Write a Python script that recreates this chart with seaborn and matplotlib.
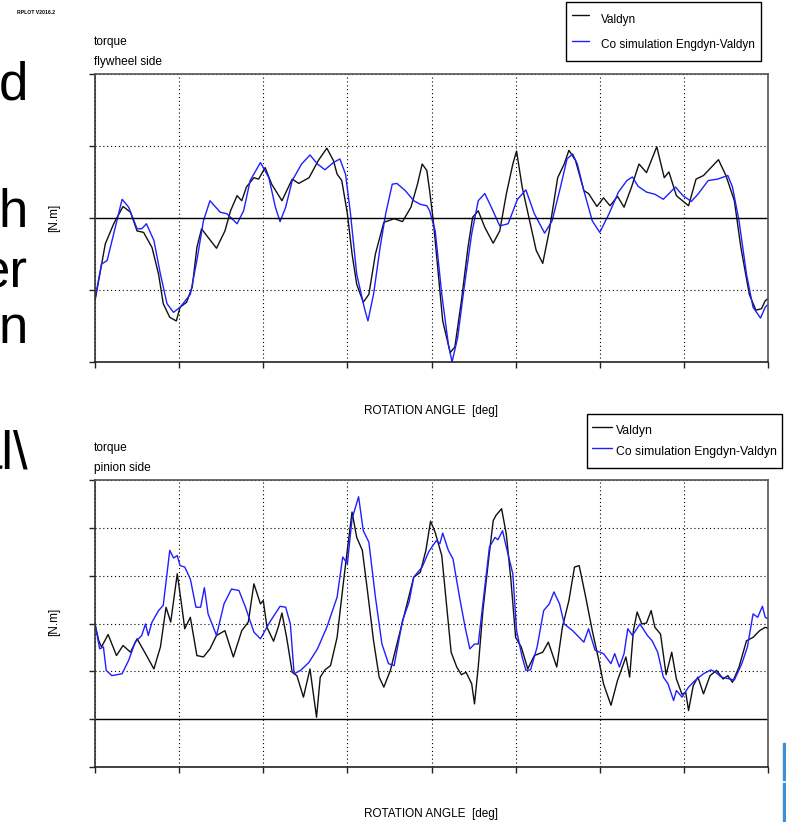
import seaborn as sns
import pandas as pd
import matplotlib.pyplot as plt
from matplotlib.patches import Rectangle

# torque curves (y in grid units, x in crank degrees)

# flywheel side - Valdyn
fly_valdyn_x = [0, 11, 20, 30, 38, 45, 52, 61, 68, 73, 80, 87, 91, 98, 104, 109, 114, 121, 130, 139,
                145, 152, 157, 162, 170, 175, 182, 189, 200, 211, 218, 229, 239, 248, 255, 259, 264, 270,
                275, 280, 287, 293, 300, 309, 320, 329, 338, 345, 350, 355, 358, 362, 366, 372, 380, 385,
                392, 399, 404, 410, 417, 426, 433, 440, 447, 451, 457, 465, 472, 479, 486, 495, 502, 507,
                514, 523, 528, 537, 544, 551, 559, 566, 574, 582, 590, 601, 609, 614, 622, 635, 643, 651,
                659, 667, 675, 684, 691, 700, 707, 713, 717, 720]
fly_valdyn_y = [-1.15, -0.36, -0.08, 0.16, 0.08, -0.18, -0.2, -0.41, -0.78, -1.19, -1.38, -1.43, -1.24, -1.17,
                -0.96, -0.41, -0.15, -0.27, -0.42, -0.18, 0.10, 0.31, 0.24, 0.43, 0.56, 0.54, 0.70, 0.47, 0.24,
                0.54, 0.48, 0.56, 0.80, 0.97, 0.80, 0.61, 0.52, 0.06, -0.5, -0.92, -1.17, -1.06, -0.5, -0.06,
                -0.01, -0.05, 0.15, 0.47, 0.75, 0.66, 0.38, -0.05, -0.6, -1.43, -1.87, -1.79, -1.15, -0.41,
                0.01, 0.10, -0.13, -0.35, -0.18, 0.33, 0.75, 0.93, 0.43, -0.04, -0.45, -0.63, -0.18, 0.56,
                0.75, 0.94, 0.80, 0.38, 0.34, 0.16, 0.28, 0.17, 0.30, 0.15, 0.43, 0.75, 0.63, 0.99, 0.56,
                0.64, 0.31, 0.17, 0.54, 0.59, 0.70, 0.81, 0.59, 0.24, -0.41, -1.06, -1.28, -1.26, -1.15, -1.12]

# flywheel side - co simulation
fly_cosim_x = [0, 7, 13, 20, 29, 36, 45, 50, 55, 63, 70, 77, 84, 91, 102, 109, 116, 123, 134, 141, 152,
               159, 166, 177, 186, 193, 198, 204, 211, 221, 230, 238, 246, 255, 262, 268, 273, 280, 288,
               292, 298, 305, 311, 318, 323, 332, 341, 348, 355, 358, 364, 371, 378, 382, 388, 395, 403,
               410, 417, 424, 433, 442, 452, 461, 470, 481, 489, 498, 505, 511, 516, 523, 532, 540, 550,
               560, 569, 575, 581, 590, 599, 608, 621, 629, 638, 645, 656, 666, 677, 682, 689, 697, 704,
               712, 717, 720]
fly_cosim_y = [-1.12, -0.64, -0.59, -0.22, 0.26, 0.15, -0.15, -0.15, -0.08, -0.31, -0.78, -1.19, -1.31,
               -1.24, -1.06, -0.59, -0.04, 0.24, 0.08, 0.06, -0.08, 0.10, 0.52, 0.77, 0.56, 0.15, -0.05,
               0.15, 0.52, 0.75, 0.875, 0.75, 0.67, 0.77, 0.82, 0.61, 0.10, -0.78, -1.24, -1.43, -1.06,
               -0.41, 0.06, 0.47, 0.48, 0.38, 0.24, 0.19, 0.17, 0.10, -0.18, -1.06, -1.75, -2.0, -1.66,
               -0.96, -0.22, 0.24, 0.34, 0.15, -0.11, -0.08, 0.26, 0.39, 0.06, -0.21, -0.04, 0.43, 0.82,
               0.89, 0.75, 0.38, -0.04, -0.20, 0.06, 0.36, 0.52, 0.57, 0.44, 0.36, 0.33, 0.26, 0.43, 0.31,
               0.23, 0.33, 0.52, 0.54, 0.59, 0.43, -0.04, -0.78, -1.24, -1.39, -1.24, -1.2]

# pinion side - Valdyn
pin_valdyn_x = [0, 4, 7, 14, 23, 30, 38, 45, 54, 63, 70, 76, 81, 88, 93, 96, 102, 109, 116, 123, 130, 139,
                148, 157, 164, 170, 177, 180, 184, 191, 196, 200, 205, 211, 216, 223, 230, 237, 241, 246,
                252, 259, 266, 271, 275, 280, 286, 291, 298, 304, 309, 316, 323, 332, 341, 348, 354, 359,
                364, 371, 376, 381, 387, 392, 397, 403, 406, 410, 415, 421, 426, 429, 435, 440, 445, 450,
                456, 463, 470, 479, 485, 494, 500, 507, 513, 518, 525, 532, 539, 544, 552, 559, 568, 572,
                576, 580, 585, 590, 595, 599, 605, 611, 617, 622, 628, 632, 635, 640, 645, 651, 658, 665,
                672, 677, 682, 689, 697, 704, 711, 717, 720]
pin_valdyn_y = [1.99, 1.64, 1.51, 1.77, 1.33, 1.54, 1.40, 1.68, 1.37, 1.05, 1.51, 2.34, 2.03, 3.04, 2.34,
                1.89, 2.13, 1.33, 1.30, 1.47, 1.75, 1.85, 1.30, 1.85, 2.03, 2.83, 2.41, 2.48, 1.92, 1.63,
                1.92, 2.22, 1.71, 0.98, 0.91, 0.46, 1.05, 0.04, 0.88, 1.03, 1.12, 1.71, 2.90, 3.70, 4.33,
                3.80, 3.53, 2.76, 1.64, 0.88, 0.67, 1.02, 1.57, 2.27, 2.97, 3.07, 3.53, 4.14, 3.90, 3.42,
                2.41, 1.40, 1.09, 0.93, 0.98, 0.74, 0.32, 1.09, 2.27, 3.32, 4.15, 4.26, 4.40, 3.87, 2.90,
                1.71, 1.51, 1.05, 1.33, 1.40, 1.61, 1.09, 1.92, 2.48, 3.18, 3.21, 2.55, 1.85, 1.23, 0.74,
                0.29, 0.81, 1.30, 0.88, 1.85, 2.24, 1.99, 2.01, 2.27, 1.92, 1.78, 0.93, 1.40, 0.84, 0.52,
                0.56, 0.18, 0.70, 0.88, 0.53, 0.91, 1.02, 0.84, 0.91, 0.77, 1.09, 1.64, 1.71, 1.85, 1.92, 1.9]

# pinion side - co simulation
pin_cosim_x = [0, 5, 9, 12, 18, 29, 36, 43, 50, 54, 57, 61, 68, 73, 80, 84, 88, 91, 96, 102, 108, 113,
               117, 121, 130, 138, 146, 154, 161, 170, 177, 187, 198, 204, 209, 213, 220, 229, 238, 248,
               259, 265, 270, 275, 282, 287, 293, 300, 307, 314, 320, 329, 336, 341, 350, 357, 365, 369,
               372, 378, 383, 390, 396, 401, 406, 410, 417, 422, 428, 431, 436, 440, 447, 451, 457, 461,
               466, 473, 480, 486, 491, 497, 502, 511, 523, 528, 535, 544, 552, 556, 561, 566, 570, 575,
               583, 591, 596, 602, 608, 613, 619, 622, 628, 635, 642, 651, 659, 664, 670, 679, 684, 692,
               698, 704, 709, 714, 717, 720]
pin_cosim_y = [1.99, 1.47, 1.51, 1.02, 0.91, 0.95, 1.23, 1.61, 1.75, 1.99, 1.75, 2.03, 2.27, 2.38, 3.53,
               3.37, 3.42, 3.21, 3.18, 2.93, 2.34, 2.34, 2.75, 2.20, 1.75, 2.41, 2.72, 2.69, 2.34, 1.82,
               1.68, 2.03, 2.36, 2.34, 1.99, 0.95, 1.02, 1.19, 1.47, 1.92, 2.55, 3.39, 3.25, 4.19, 4.65,
               3.94, 3.70, 2.55, 1.57, 1.16, 1.12, 2.06, 2.45, 2.97, 3.18, 3.50, 3.73, 3.67, 3.89, 3.53,
               3.35, 2.55, 1.92, 1.47, 1.57, 1.57, 2.76, 3.60, 3.80, 3.75, 3.94, 3.60, 3.04, 1.85, 1.30,
               1.02, 1.03, 1.51, 2.27, 2.41, 2.66, 2.41, 1.99, 1.85, 1.61, 1.89, 1.44, 1.37, 1.16, 1.37,
               1.09, 1.37, 1.89, 1.75, 1.99, 1.75, 1.64, 1.40, 0.88, 0.74, 0.39, 0.60, 0.46, 0.67, 0.81,
               0.95, 1.03, 0.98, 0.88, 0.84, 0.82, 1.16, 1.51, 2.20, 2.13, 2.36, 2.13, 2.1]

series_names = ["Valdyn", "Co simulation Engdyn-Valdyn"]
series_colors = ["#111111", "#1f1fff"]

sns.set_style("white")
plt.rcParams['font.family'] = ['Liberation Sans', 'DejaVu Sans']
plt.rcParams['text.color'] = 'black'

fig = plt.figure(figsize=(7.86, 8.22), dpi=100)
W, H = 786, 822


def fx(px):
    return px / W


def fy(py):
    return 1 - py / H


def torque_panel(rect, vx, vy, cx, cy, ylim):
    ax = fig.add_axes(rect)
    sns.lineplot(x=vx, y=vy, ax=ax, color=series_colors[0], lw=1.0, sort=False,
                 estimator=None, label=series_names[0])
    sns.lineplot(x=cx, y=cy, ax=ax, color=series_colors[1], lw=1.0, sort=False,
                 estimator=None, label=series_names[1])
    ax.set_xlim(0, 720)
    ax.set_ylim(*ylim)
    ax.set_xticks(range(0, 721, 90))
    ax.set_yticks(range(ylim[0], ylim[1] + 1))
    ax.set_xticklabels([])
    ax.set_yticklabels([])
    ax.set_xlabel("")
    ax.set_ylabel("")
    ax.grid(True, color="black", ls=(0, (1, 2.5)), lw=0.8)
    ax.axhline(0, color="black", lw=1.0)
    for s in ax.spines.values():
        s.set_color("#555555")
        s.set_linewidth(1.2)
    ax.spines["left"].set_color("#333333")
    ax.spines["bottom"].set_color("#222222")
    ax.tick_params(direction="out", length=4, width=1, color="#222222",
                   bottom=True, left=True)
    ax.get_legend().remove()
    return ax


ax1 = torque_panel([fx(95), fy(362), fx(673), 288 / H],
                   fly_valdyn_x, fly_valdyn_y, fly_cosim_x, fly_cosim_y, (-2, 2))
ax2 = torque_panel([fx(95), fy(767), fx(673), 287 / H],
                   pin_valdyn_x, pin_valdyn_y, pin_cosim_x, pin_cosim_y, (-1, 5))

# legends, drawn like the RPLOT boxes
legend_opts = [
    (ax1, (761, 2), dict(fontsize=8.5, labelspacing=0.3, borderpad=0.5, handleheight=2.5,
                         handlelength=1.45, handletextpad=1.0)),
    (ax2, (782, 414), dict(fontsize=8.8, labelspacing=-0.07, borderpad=0.45, handleheight=2.4,
                           handlelength=1.6, handletextpad=0.3)),
]
for ax, (xr, yt), opts in legend_opts:
    h, l = ax.get_legend_handles_labels()
    leg = ax.legend(h, l, loc="upper right", bbox_to_anchor=(fx(xr), fy(yt)),
                    bbox_transform=fig.transFigure, frameon=True,
                    fancybox=False, framealpha=1, edgecolor="black",
                    borderaxespad=0, **opts)
    leg.get_frame().set_linewidth(1.0)
    for ln in leg.get_lines():
        ln.set_linewidth(1.0)

# panel titles and axis labels
fig.text(fx(94), fy(42), "torque", fontsize=8.6, va="center")
fig.text(fx(94), fy(62), "flywheel side", fontsize=8.6, va="center")
fig.text(fx(94), fy(448), "torque", fontsize=8.6, va="center")
fig.text(fx(94), fy(468), "pinion side", fontsize=8.6, va="center")
fig.text(fx(54), fy(218), "[N.m]", fontsize=8.5, rotation=90, ha="center", va="center")
fig.text(fx(54), fy(622), "[N.m]", fontsize=8.5, rotation=90, ha="center", va="center")
fig.text(fx(431), fy(411), "ROTATION ANGLE  [deg]", fontsize=8.5, ha="center", va="center")
fig.text(fx(431), fy(814), "ROTATION ANGLE  [deg]", fontsize=8.5, ha="center", va="center")
fig.text(fx(17), fy(13), "RPLOT V2016.2", fontsize=3.7, fontweight="bold", va="center")

# clipped text of the slide behind the plot
for txt, y in [("d", 100), ("h", 227), ("er", 287), ("n", 343), ("al\\", 468)]:
    fig.text(fx(28), fy(y), txt, fontsize=38, ha="right", va="baseline", color="black")

fig.patches.append(Rectangle((fx(783), fy(780)), fx(3), 37 / H, transform=fig.transFigure,
                             color="#3d8fd6", zorder=5))
fig.patches.append(Rectangle((fx(783), fy(822)), fx(3), 39 / H, transform=fig.transFigure,
                             color="#3d8fd6", zorder=5))

plt.savefig("out.png", dpi=100)
